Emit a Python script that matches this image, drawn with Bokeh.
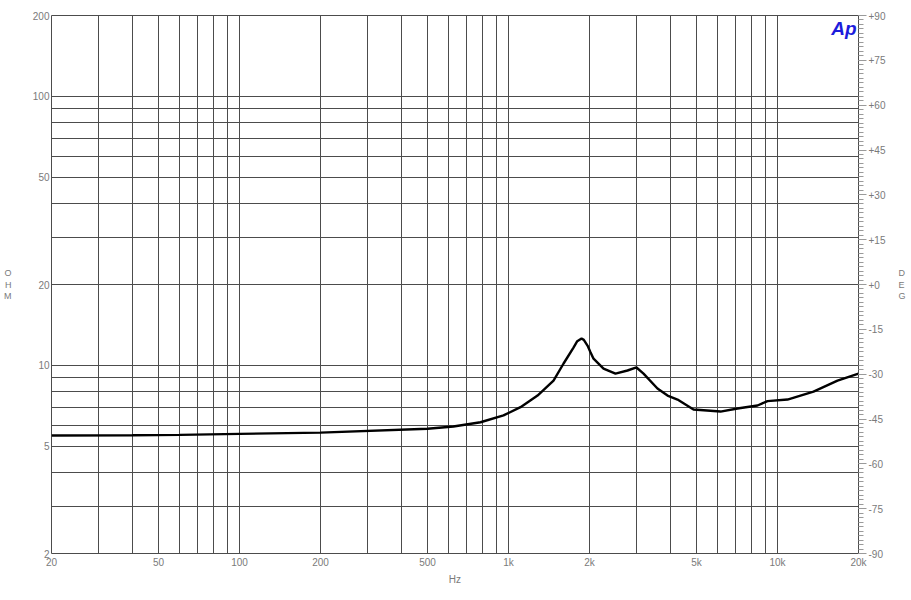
from bokeh.plotting import figure
from bokeh.models import (Range1d, LinearAxis, LogAxis, FixedTicker, Label,
                          ColumnDataSource, LinearScale)
from bokeh.embed import file_html
from bokeh.resources import INLINE

# ---- data ----
freq_hz = [20, 40, 60, 100, 200, 500, 624, 787, 958, 1108, 1282, 1470, 1602, 1744,
           1801, 1868, 1905, 1966, 2017, 2070, 2255, 2498, 2769, 2990, 3176, 3578, 3900,
           4248, 4871, 6138, 7098, 8424, 9176, 10892, 13606, 16711, 20000]
impedance_ohm = [5.49, 5.50, 5.52, 5.57, 5.63, 5.82, 5.93, 6.15, 6.52, 7.00, 7.73, 8.79,
                 10.17, 11.66, 12.31, 12.60, 12.45, 11.86, 11.20, 10.60, 9.74, 9.33,
                 9.58, 9.83, 9.33, 8.21, 7.73, 7.47, 6.86, 6.74, 6.92, 7.10, 7.37, 7.47,
                 8.00, 8.79, 9.33]

x_tick_vals = [20, 50, 100, 200, 500, 1000, 2000, 5000, 10000, 20000]
x_tick_labels = ["20", "50", "100", "200", "500", "1k", "2k", "5k", "10k", "20k"]
x_grid_vals = [20, 30, 40, 50, 60, 70, 80, 90, 100, 200, 300, 400, 500, 600, 700, 800,
               900, 1000, 2000, 3000, 4000, 5000, 6000, 7000, 8000, 9000, 10000, 20000]
y_tick_vals = [2, 5, 10, 20, 50, 100, 200]
y_tick_labels = ["2", "5", "10", "20", "50", "100", "200"]
y_grid_vals = [3, 4, 5, 6, 7, 8, 9, 10, 20, 30, 40, 50, 60, 70, 80, 90, 100]
deg_tick_vals = [-90, -75, -60, -45, -30, -15, 0, 15, 30, 45, 60, 75, 90]
deg_tick_labels = ["-90", "-75", "-60", "-45", "-30", "-15", "+0", "+15", "+30",
                   "+45", "+60", "+75", "+90"]
deg_minor_step = 1.5
x_title = "Hz"
left_title = "OHM"
right_title = "DEG"

FONT = "Liberation Sans"
LABEL_COLOR = "#7a7a7a"
GRID_COLOR = "#4c4c4c"

FL, FT, FW, FH = 51, 15, 807, 538   # frame position/size in canvas pixels
p = figure(frame_width=FW, frame_height=FH, output_backend="svg", toolbar_location=None,
           x_axis_type="log", y_axis_type="log",
           x_range=Range1d(20, 20000), y_range=Range1d(2, 200),
           min_border_left=FL, min_border_right=45, min_border_top=FT,
           min_border_bottom=31)
p.extra_y_ranges = {"deg": Range1d(-90, 90)}
p.extra_y_scales = {"deg": LinearScale()}
p.outline_line_color = GRID_COLOR
p.outline_line_width = 1
p.background_fill_color = "white"
p.border_fill_color = "white"

# grids
p.xgrid.ticker = FixedTicker(ticks=x_grid_vals)
p.ygrid.ticker = FixedTicker(ticks=y_grid_vals)
for g in (p.xgrid, p.ygrid):
    g.grid_line_color = GRID_COLOR
    g.grid_line_width = 1
    g.grid_line_alpha = 1.0

def plain(ax, standoff):
    ax.axis_line_color = None
    ax.major_tick_line_color = None
    ax.minor_tick_line_color = None
    ax.major_tick_out = 0
    ax.major_tick_in = 0
    ax.minor_tick_out = 0
    ax.minor_tick_in = 0
    ax.major_label_text_font = FONT
    ax.major_label_text_font_size = "10px"
    ax.major_label_text_color = LABEL_COLOR
    ax.major_label_standoff = standoff

# bottom axis
xa = p.xaxis[0]
xa.ticker = FixedTicker(ticks=x_tick_vals)
xa.major_label_overrides = {v: s for v, s in zip(x_tick_vals, x_tick_labels)}
plain(xa, 3)

# left axis
ya = p.yaxis[0]
ya.ticker = FixedTicker(ticks=y_tick_vals)
ya.major_label_overrides = {v: s for v, s in zip(y_tick_vals, y_tick_labels)}
plain(ya, 2)

# right axis (degrees)
n_minor = int(round(180 / deg_minor_step)) + 1
deg_minor = [-90 + i * deg_minor_step for i in range(n_minor)]
ra = LinearAxis(y_range_name="deg",
                ticker=FixedTicker(ticks=deg_tick_vals, minor_ticks=deg_minor))
ra.major_label_overrides = {v: s for v, s in zip(deg_tick_vals, deg_tick_labels)}
ra.axis_line_color = GRID_COLOR
ra.major_tick_line_color = "#9a9a9a"
ra.minor_tick_line_color = "#9a9a9a"
ra.major_tick_in = 0
ra.major_tick_out = 8
ra.minor_tick_in = 0
ra.minor_tick_out = 5
ra.major_label_text_font = FONT
ra.major_label_text_font_size = "10px"
ra.major_label_text_color = LABEL_COLOR
ra.major_label_standoff = 2
p.add_layout(ra, "right")

# titles drawn as labels of extra, tick-less axes (stacked upright letters)
title_pos = [4, 0, -4]   # degrees on the phase scale -> ~12 px letter spacing
la = LinearAxis(y_range_name="deg", ticker=FixedTicker(ticks=title_pos))
la.major_label_overrides = {v: s for v, s in zip(title_pos, left_title)}
plain(la, 18)
la.major_label_text_font_size = "9px"
p.add_layout(la, "left")

rt = LinearAxis(y_range_name="deg", ticker=FixedTicker(ticks=title_pos))
rt.major_label_overrides = {v: s for v, s in zip(title_pos, right_title)}
plain(rt, 10)
rt.major_label_text_font_size = "9px"
p.add_layout(rt, "right")

hz_pos = [632]   # geometric centre of 20 Hz .. 20 kHz
bt = LogAxis(ticker=FixedTicker(ticks=hz_pos))
bt.major_label_overrides = {hz_pos[0]: x_title}
plain(bt, 3)
p.add_layout(bt, "below")

# curve
src = ColumnDataSource(dict(f=freq_hz, z=impedance_ohm))
p.line("f", "z", source=src, line_color="black", line_width=2.4)

# Ap logo
p.add_layout(Label(x=FL + FW - 2, y=FT + 2, x_units="canvas", y_units="canvas", text="Ap",
                   text_font=FONT, text_font_style="bold italic", text_font_size="19px",
                   text_color="#1c1cdc", text_align="right", text_baseline="top"))

open("out.html", "w").write(file_html(p, INLINE))
